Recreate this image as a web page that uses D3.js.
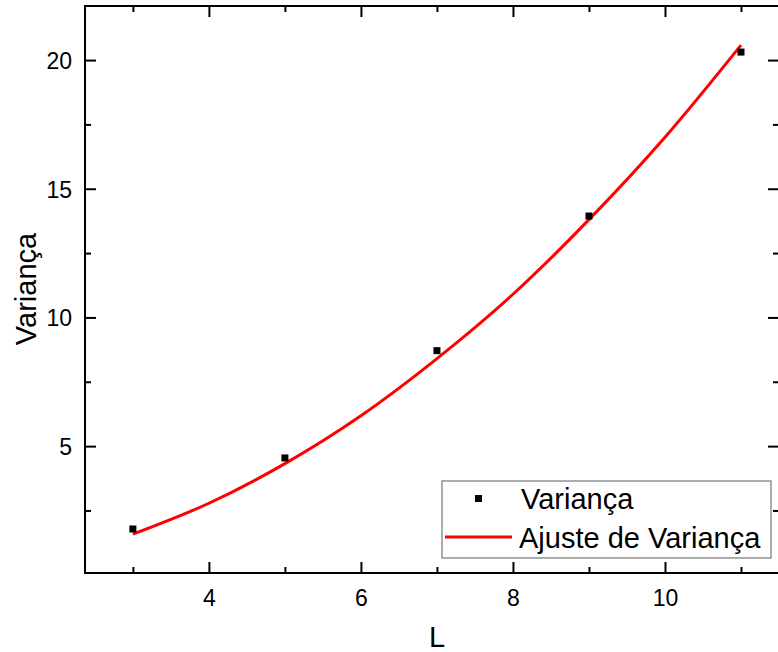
<!DOCTYPE html>
<html><head><meta charset="utf-8">
<script src="https://cdn.jsdelivr.net/npm/d3@7"></script>
<style>body{margin:0;background:#fff}svg{display:block}text{font-family:"Liberation Sans",Arial,sans-serif}</style>
</head><body>
<script>
const xValues = [3, 5, 7, 9, 11];
const yValues = [1.78, 4.54, 8.71, 13.94, 20.31];
const fitX = [3, 4, 5, 6, 7, 8, 9, 10, 11];
const fitY = [1.58, 2.78, 4.32, 6.18, 8.4, 10.9, 13.8, 17.0, 20.58];
const xTicks = [4, 6, 8, 10];
const xMinor = [3, 5, 7, 9, 11];
const yTicks = [5, 10, 15, 20];
const yMinor = [2.5, 7.5, 12.5, 17.5];
const seriesNames = ["Variança", "Ajuste de Variança"];

const W = 778, H = 652;
const L = 85, R = 779, T = 6, B = 573;
const svg = d3.select("body").append("svg").attr("width", W).attr("height", H);
const x = d3.scaleLinear().domain([2.37, 11.5]).range([L, R]);
const y = d3.scaleLinear().domain([0.07, 22.1]).range([B, T]);

// frame
svg.append("rect").attr("x", L).attr("y", T).attr("width", R - L).attr("height", B - T)
  .attr("fill", "none").attr("stroke", "#000").attr("stroke-width", 2);

function drawAxis(base, scale, tr, vals, major, labels, pad) {
  const a = base(scale).tickValues(vals).tickSizeOuter(0)
    .tickSize(major ? -11 : -6).tickPadding(pad || 0);
  if (!labels) a.tickFormat("");
  const g = svg.append("g").attr("transform", tr).call(a);
  g.select(".domain").remove();
  g.selectAll("line").attr("stroke", "#000").attr("stroke-width", 2);
  g.selectAll("text").attr("font-size", 23).attr("fill", "#000");
  return g;
}
drawAxis(d3.axisBottom, x, `translate(0,${B})`, xTicks, true, true, 17);
drawAxis(d3.axisBottom, x, `translate(0,${B})`, xMinor, false, false);
drawAxis(d3.axisTop, x, `translate(0,${T})`, xTicks, true, false);
drawAxis(d3.axisTop, x, `translate(0,${T})`, xMinor, false, false);
drawAxis(d3.axisLeft, y, `translate(${L},0)`, yTicks, true, true, 13).selectAll("text").attr("dy", "0.36em");
drawAxis(d3.axisLeft, y, `translate(${L},0)`, yMinor, false, false);
drawAxis(d3.axisRight, y, `translate(${R},0)`, yTicks, true, false);
drawAxis(d3.axisRight, y, `translate(${R},0)`, yMinor, false, false);

// fit line
svg.append("path").datum(fitX.map((v, i) => [v, fitY[i]]))
  .attr("fill", "none").attr("stroke", "#ff0000").attr("stroke-width", 3)
  .attr("d", d3.line().x(d => x(d[0])).y(d => y(d[1])).curve(d3.curveMonotoneX));

// points
svg.selectAll("rect.pt").data(xValues.map((v, i) => [v, yValues[i]])).enter()
  .append("rect").attr("class", "pt")
  .attr("x", d => x(d[0]) - 3.5).attr("y", d => y(d[1]) - 3.5)
  .attr("width", 7).attr("height", 7).attr("fill", "#000");

// axis titles
svg.append("text").attr("x", 437).attr("y", 647).attr("text-anchor", "middle")
  .attr("font-size", 29).text("L");
svg.append("text").attr("transform", "translate(36,289) rotate(-90)")
  .attr("text-anchor", "middle").attr("font-size", 29).text("Variança");

// legend
const lg = svg.append("g");
lg.append("rect").attr("x", 442).attr("y", 481).attr("width", 329).attr("height", 77)
  .attr("fill", "#fff").attr("stroke", "#777").attr("stroke-width", 1.2);
lg.append("rect").attr("x", 475).attr("y", 495).attr("width", 7).attr("height", 7).attr("fill", "#000");
lg.append("line").attr("x1", 445).attr("x2", 512).attr("y1", 537).attr("y2", 537)
  .attr("stroke", "#ff0000").attr("stroke-width", 3);
lg.append("text").attr("x", 521).attr("y", 509).attr("font-size", 29).text(seriesNames[0]);
lg.append("text").attr("x", 519).attr("y", 548).attr("font-size", 29).text(seriesNames[1]);
</script>
</body></html>
